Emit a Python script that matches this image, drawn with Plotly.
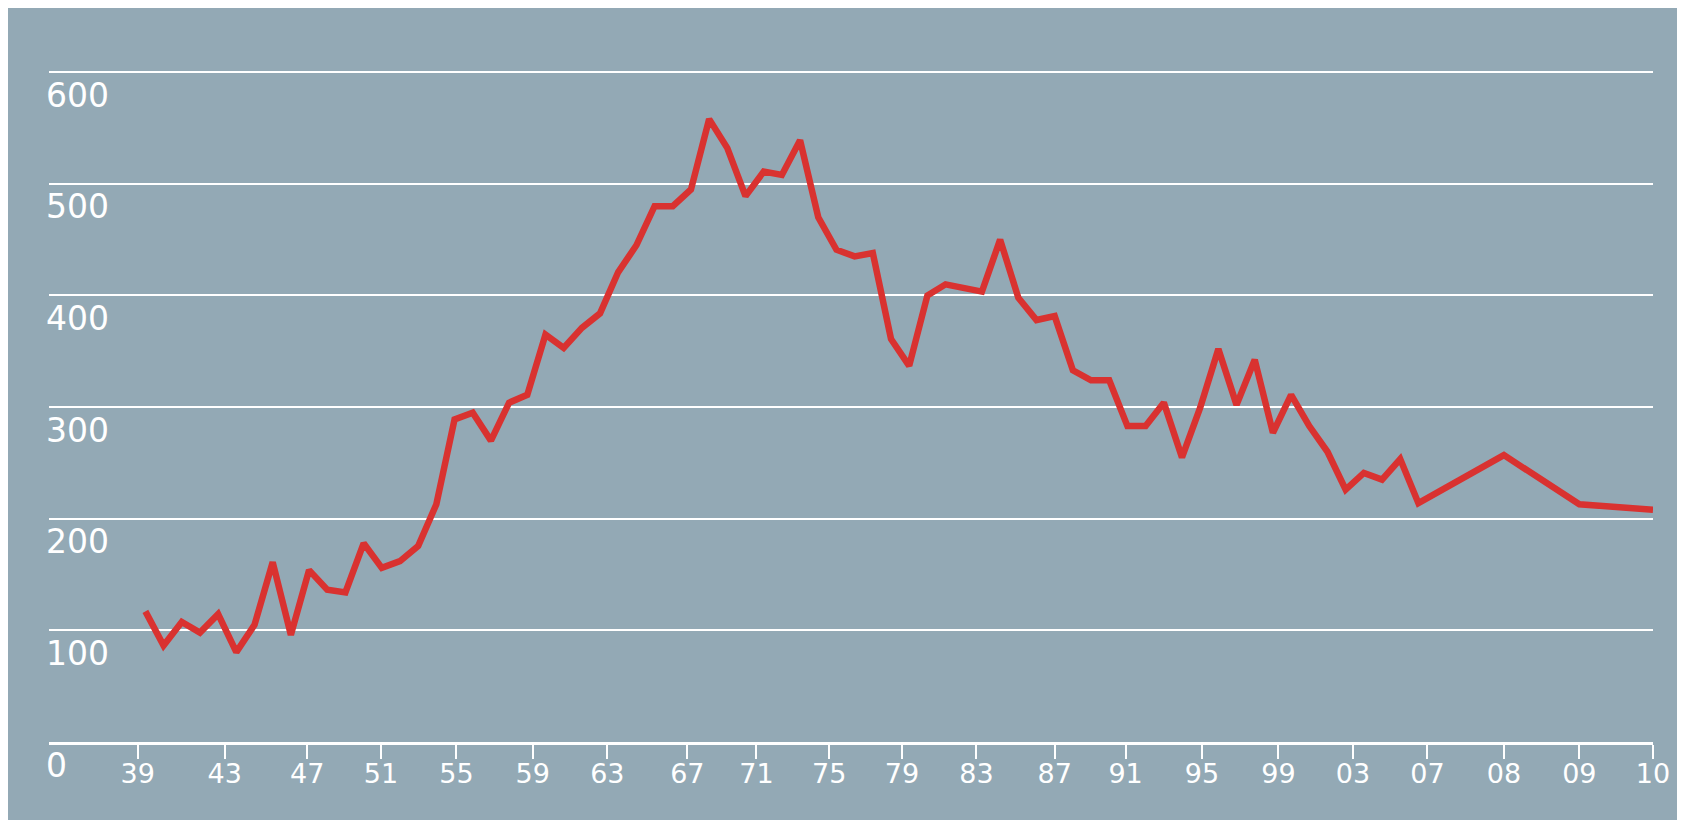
import plotly.graph_objects as go

dense_values = [117, 86.5, 107.5, 98, 114.5, 80.5, 105, 161, 96, 154,
                136.5, 134, 178, 156, 162, 175.5, 213, 289, 295, 270,
                304, 311, 365, 353, 371, 384, 421, 445, 480, 480,
                495, 558, 532, 489, 511, 508, 539, 470, 441, 435,
                438, 361, 337, 400, 410, 407, 403.5, 450, 398, 378,
                381.5, 333, 324, 324, 283, 283, 304, 255, 299.5, 352,
                302, 342.5, 277, 311, 283, 260, 226, 241, 235, 253.5,
                214]
tail_labels = ["08", "09", "10"]
tail_values = [257, 213, 208]

tick_labels = ["39", "43", "47", "51", "55", "59", "63", "67", "71", "75", "79",
               "83", "87", "91", "95", "99", "03", "07", "08", "09", "10"]
# where each label sits, counted in observations (the original spacing is a bit uneven)
tick_pos = [-0.42, 4.36, 8.9, 12.95, 17.1, 21.3, 25.4, 29.8, 33.6, 37.6, 41.6,
            45.7, 50.0, 53.9, 58.1, 62.3, 66.4, 70.5, 74.7, 78.85, 82.9]
y_ticks = [0, 100, 200, 300, 400, 500, 600]

BG = "#93a9b5"
RED = "#d93230"
FONT = "DejaVu Sans"

# the last three points sit on their own ticks
x = list(range(len(dense_values))) + [tick_pos[tick_labels.index(l)] for l in tail_labels]
y = dense_values + tail_values

fig = go.Figure()
fig.add_trace(go.Scatter(x=x, y=y, mode="lines", line=dict(color=RED, width=6.5), hoverinfo="skip", showlegend=False))

fig.update_xaxes(range=[-5.3, 82.9], tickmode="array", tickvals=tick_pos, ticktext=tick_labels, showgrid=False, zeroline=False,
                 showline=True, linecolor="white", linewidth=2.5, ticks="outside", ticklen=14, tickwidth=2, tickcolor="white",
                 ticklabelstandoff=-8, tickfont=dict(size=27, color="white", family=FONT))
fig.update_yaxes(range=[0, 602], tickmode="array", tickvals=y_ticks, showgrid=True, gridcolor="white", gridwidth=2, zeroline=False,
                 ticklabelposition="inside", ticklabelshift=23, ticklabelstandoff=-6, ticklabeloverflow="allow",
                 tickfont=dict(size=33, color="white", family=FONT))
fig.update_layout(width=1685, height=820, margin=dict(l=41, r=40, t=62, b=86), paper_bgcolor=BG, plot_bgcolor=BG,
                  showlegend=False)

fig.write_html("out.html")
